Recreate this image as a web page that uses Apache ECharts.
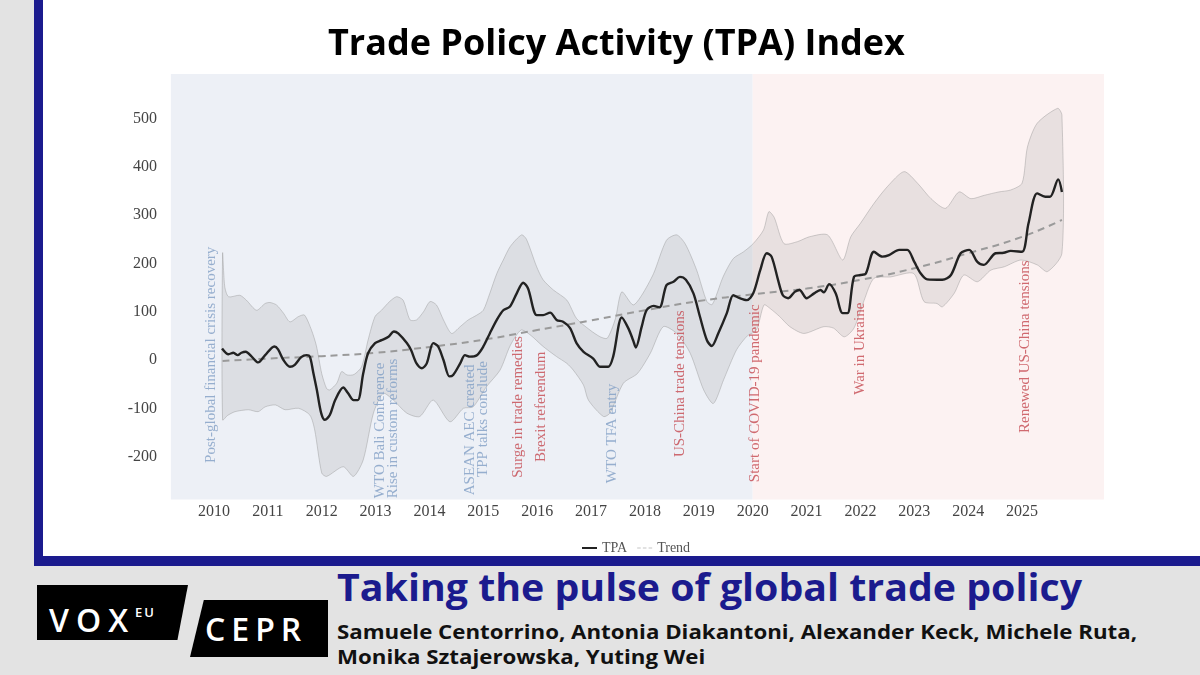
<!DOCTYPE html>
<html>
<head>
<meta charset="utf-8">
<script src="https://cdn.jsdelivr.net/npm/echarts@6/dist/echarts.min.js"></script>
<style>
html, body { margin: 0; padding: 0; }
body { width: 1200px; height: 675px; background: #e3e3e3; position: relative; overflow: hidden; font-family: "Open Sans", sans-serif; }
#frame { position: absolute; left: 34px; top: 0; width: 1166px; height: 566px; background: #1b1b8e; }
#paper { position: absolute; left: 9px; top: 0; right: 0; bottom: 10px; background: #fff; }
#main { position: absolute; left: 0; top: 0; width: 1200px; height: 556px; }
.logo { position: absolute; background: #000; color: #fff; font-weight: 600; }
#vox { left: 37px; top: 585px; width: 151px; height: 55px; line-height: 55px; font-size: 32px; letter-spacing: 7px; padding-left: 12px; box-sizing: border-box;
  clip-path: polygon(0 0, 100% 0, 93% 100%, 0 100%); }
#vox sup { font-size: 13px; letter-spacing: 2px; vertical-align: 15px; }
#cepr { left: 190px; top: 600px; width: 138px; height: 57px; line-height: 57px; font-size: 32px; letter-spacing: 6px; padding-left: 15px; box-sizing: border-box;
  clip-path: polygon(10% 0, 100% 0, 100% 100%, 0 100%); }
.fit { position: absolute; left: 337px; white-space: nowrap; transform-origin: 0 0; }
#headline { top: 563px; font-size: 38px; font-weight: 700; color: #1b1b8e; line-height: 46px; }
#authors { top: 620px; font-size: 19px; font-weight: 700; color: #111; line-height: 25px; }
#authors span { display: block; }
</style>
</head>
<body>
<div id="frame"><div id="paper"></div></div>
<div id="main"></div>
<div id="vox" class="logo">VOX<sup>EU</sup></div>
<div id="cepr" class="logo">CEPR</div>
<div id="headline" class="fit"><span>Taking the pulse of global trade policy</span></div>
<div id="authors" class="fit"><span>Samuele Centorrino, Antonia Diakantoni, Alexander Keck, Michele Ruta,</span><span>Monika Sztajerowska, Yuting Wei</span></div>
<script>
// TPA index (decimal years)
var tpaDates = [
  2010.15, 2010.27, 2010.36, 2010.44, 2010.51, 2010.59, 2010.70, 2010.82, 2010.95,
  2011.12, 2011.19, 2011.29, 2011.41, 2011.50, 2011.62, 2011.72, 2011.78, 2011.84, 2011.91, 2011.99,
  2012.06, 2012.15, 2012.25, 2012.40, 2012.49, 2012.59, 2012.67, 2012.77, 2012.86, 2012.99,
  2013.11, 2013.24, 2013.34, 2013.42, 2013.58, 2013.66, 2013.76, 2013.86, 2013.95,
  2014.07, 2014.16, 2014.26, 2014.37, 2014.44, 2014.57, 2014.66, 2014.75, 2014.88,
  2015.00, 2015.12, 2015.25, 2015.37, 2015.49, 2015.62, 2015.74, 2015.83, 2015.99,
  2016.11, 2016.24, 2016.36, 2016.48, 2016.61, 2016.73, 2016.86,
  2017.04, 2017.17, 2017.32, 2017.41, 2017.57, 2017.69, 2017.78, 2017.83, 2017.94,
  2018.03, 2018.16, 2018.27, 2018.40, 2018.53, 2018.65, 2018.76, 2018.90,
  2019.02, 2019.15, 2019.24, 2019.36, 2019.52, 2019.64, 2019.76, 2019.89,
  2020.01, 2020.14, 2020.26, 2020.35, 2020.47, 2020.56, 2020.66, 2020.78, 2020.87,
  2021.00, 2021.14, 2021.26, 2021.32, 2021.42, 2021.54, 2021.67, 2021.76, 2021.88,
  2022.00, 2022.10, 2022.25, 2022.41, 2022.53, 2022.72, 2022.87,
  2023.00, 2023.12, 2023.24, 2023.52, 2023.68, 2023.86,
  2024.02, 2024.17, 2024.29, 2024.51, 2024.66, 2024.79,
  2025.00, 2025.12, 2025.28, 2025.43, 2025.52, 2025.67, 2025.74
];
var tpaValues = [
  24, 12, 15, 10, 15, 17, 7, -5, 10,
  28, 22, 0, -14, -10, 6, 10, 7, -24, -62, -110,
  -124, -114, -83, -57, -69, -83, -83, -28, 14, 35,
  41, 48, 59, 55, 35, 20, -7, -17, -7,
  35, 28, 0, -34, -31, -7, 10, 7, 10,
  28, 55, 83, 103, 110, 138, 160, 148, 93,
  93, 98, 83, 79, 66, 35, 17,
  3, -14, -14, 7, 88, 66, 41, 26, 69,
  103, 112, 109, 155, 162, 172, 166, 138,
  90, 41, 29, 55, 97, 134, 128, 124,
  138, 186, 221, 214, 166, 134, 128, 141, 145,
  128, 138, 145, 140, 157, 138, 97, 97, 172,
  176, 179, 224, 214, 217, 228, 228,
  203, 179, 167, 166, 176, 221,
  228, 203, 197, 221, 222, 226,
  224, 283, 345, 338, 338, 374, 348
];

var trendDates = [2010.16, 2011, 2012, 2013, 2014, 2015, 2016, 2017, 2018, 2019, 2020, 2021, 2022, 2023, 2024, 2025, 2025.74];
var trendValues = [-2, 3, 8, 15, 27, 42, 62, 82, 103, 122, 136, 148, 166, 190, 221, 255, 290];

// confidence band edges
var upperDates = [
  2010.16, 2010.2, 2010.27, 2010.48, 2010.6, 2010.79, 2010.95,
  2011.04, 2011.16, 2011.29, 2011.41, 2011.57, 2011.68, 2011.81, 2011.9,
  2012.0, 2012.09, 2012.15, 2012.28, 2012.37, 2012.47, 2012.6, 2012.74, 2012.86, 2012.99,
  2013.11, 2013.26, 2013.39, 2013.51, 2013.64, 2013.76, 2013.89,
  2014.01, 2014.13, 2014.26, 2014.41, 2014.57, 2014.72, 2014.88,
  2015.0, 2015.12, 2015.25, 2015.37, 2015.5, 2015.71, 2015.8, 2015.99,
  2016.11, 2016.3, 2016.55, 2016.73, 2016.98,
  2017.17, 2017.3, 2017.45, 2017.57, 2017.78, 2017.94,
  2018.16, 2018.4, 2018.59, 2018.75, 2018.96,
  2019.15, 2019.25, 2019.45, 2019.64, 2019.83,
  2020.01, 2020.2, 2020.3, 2020.4, 2020.58, 2020.83,
  2021.05, 2021.39, 2021.67, 2021.82,
  2022.0, 2022.25, 2022.5, 2022.81,
  2023.06, 2023.31, 2023.58, 2023.83,
  2024.05, 2024.3, 2024.57, 2024.79,
  2025.0, 2025.1, 2025.28, 2025.66, 2025.74
];
var upperValues = [
  221, 152, 131, 134, 124, 103, 117,
  119, 114, 97, 79, 90, 93, 62, 30,
  -28, -59, -62, -48, -24, -31, -30, -14, 41, 90,
  103, 121, 131, 124, 83, 83, 100,
  121, 114, 83, 55, 69, 83, 93,
  103, 138, 179, 207, 235, 259, 250, 193,
  166, 145, 124, 86, 62,
  48, 45, 85, 141, 114, 134,
  179, 248, 259, 240, 186,
  121, 115, 172, 210, 224,
  241, 269, 307, 295, 241, 245,
  255, 259, 207, 255,
  283, 324, 359, 390,
  366, 334, 314, 348,
  334, 341, 348, 352,
  366, 441, 490, 521, 507
];
var lowerDates = [
  2010.16, 2010.25, 2010.39, 2010.64, 2010.82, 2010.95,
  2011.14, 2011.32, 2011.57, 2011.78, 2011.87,
  2012.0, 2012.09, 2012.4, 2012.59, 2012.77, 2012.96,
  2013.14, 2013.33, 2013.58, 2013.82,
  2014.07, 2014.38, 2014.63, 2014.81,
  2015.06, 2015.31, 2015.5, 2015.7, 2015.87,
  2016.11, 2016.36, 2016.55, 2016.67, 2016.86, 2016.95,
  2017.23, 2017.35, 2017.6, 2017.86,
  2018.1, 2018.34, 2018.59, 2018.84,
  2019.09, 2019.27, 2019.46, 2019.7, 2019.9,
  2020.07, 2020.21, 2020.32, 2020.5, 2020.69, 2020.95,
  2021.32, 2021.5, 2021.7, 2021.88,
  2022.07, 2022.25, 2022.56, 2022.99,
  2023.18, 2023.42, 2023.52, 2023.74, 2023.92,
  2024.17, 2024.42, 2024.67, 2024.98,
  2025.28, 2025.47, 2025.74
];
var lowerValues = [
  -124, -115, -107, -103, -107, -97,
  -93, -103, -100, -114, -145,
  -234, -241, -221, -241, -207, -110,
  -69, -83, -110, -117,
  -83, -128, -100, -97,
  -55, -21, 30, 62, 52,
  28, 7, -7, -21, -52, -83,
  -117, -110, -48, -28,
  14, 69, 55, 14,
  -62, -90, -41, 21, 50,
  62, 114, 107, 90, 69, 55,
  69, 66, 48, 66,
  124, 169, 172, 179,
  121, 117, 110, 138, 176,
  162, 186, 193, 207,
  197, 183, 221
];

// annotated events
var eventNames = ['Post-global financial crisis recovery', 'WTO Bali Conference', 'Rise in custom reforms',
  'ASEAN AEC created', 'TPP talks conclude', 'Surge in trade remedies', 'Brexit referendum', 'WTO TFA entry',
  'US-China trade tensions', 'Start of COVID-19 pandemic', 'War in Ukraine', 'Renewed US-China tensions'];
var eventDates = [2009.94, 2013.08, 2013.32, 2014.75, 2014.99, 2015.64, 2016.07, 2017.39, 2018.65, 2020.04, 2021.99, 2025.05];
var eventLabelBase = [-213, -286, -286, -280, -242, -244, -211, -255, -201, -253, -72, -151];
var eventKind = ['b', 'b', 'b', 'b', 'b', 'r', 'r', 'b', 'r', 'r', 'r', 'r'];

// shaded periods (start, end)
var periods = [[2009.2, 2020], [2020, 2026.52]];
var periodColors = ['#edf0f6', '#fcf2f2'];

var plotMin = -289, plotMax = 592;
var serif = '"Liberation Serif", "DejaVu Serif", serif';

function pairs(xs, ys) {
  return xs.map(function (x, i) { return [x, ys[i]]; });
}

// stretch the banner lines to the widths they have in the original
function fitWidth(id, target) {
  var el = document.getElementById(id);
  var w = el.firstElementChild.getBoundingClientRect().width;
  el.style.transform = 'scaleX(' + (target / w) + ')';
}
fitWidth('headline', 745);
fitWidth('authors', 800);

var chart = echarts.init(document.getElementById('main'));

var option = {
  animation: false,
  title: {
    text: 'Trade Policy Activity (TPA) Index',
    left: 323,
    top: 22,
    textStyle: { fontFamily: 'Open Sans', fontWeight: 'bold', fontSize: 36, color: '#000' }
  },
  legend: {
    data: [
      { name: 'TPA', icon: 'rect' },
      { name: 'Trend', icon: 'path://M0,0H5V1H0Z M8,0H13V1H8Z M16,0H21V1H16Z' }
    ],
    left: 577,
    top: 536,
    itemWidth: 15,
    itemHeight: 2,
    itemGap: 10,
    textStyle: { fontFamily: serif, fontSize: 14, color: '#555' }
  },
  grid: { left: 160.1, right: 70.2, top: 70.2, bottom: 51.1 },
  xAxis: {
    type: 'value',
    min: 2009,
    max: 2027,
    interval: 1,
    offset: -6,
    axisLine: { show: false },
    axisTick: { show: false },
    splitLine: { show: false },
    axisLabel: {
      margin: 5,
      fontFamily: serif,
      fontSize: 16,
      color: '#444',
      formatter: function (v) { return (v >= 2010 && v <= 2025) ? String(v) : ''; }
    }
  },
  yAxis: {
    type: 'value',
    min: -300,
    max: 600,
    interval: 100,
    axisLine: { show: false },
    axisTick: { show: false },
    splitLine: { show: false },
    axisLabel: {
      margin: 3,
      fontFamily: serif,
      fontSize: 16,
      color: '#444',
      formatter: function (v) { return (v >= -200 && v <= 500) ? String(v) : ''; }
    }
  },
  series: [
    {
      // shaded backgrounds
      type: 'custom',
      silent: true,
      z: 0,
      data: periods.map(function (p, i) { return [p[0], p[1], i]; }),
      encode: { x: [0, 1], y: 2 },
      renderItem: function (params, api) {
        var a = api.coord([api.value(0), plotMax]);
        var b = api.coord([api.value(1), plotMin]);
        return {
          type: 'rect',
          shape: { x: a[0], y: a[1], width: b[0] - a[0], height: b[1] - a[1] },
          style: { fill: periodColors[api.value(2)] }
        };
      }
    },
    {
      // confidence band
      type: 'custom',
      silent: true,
      z: 1,
      data: [[upperDates[0], upperValues[0]]],
      renderItem: function (params, api) {
        var pts = [];
        for (var i = 0; i < upperDates.length; i++) pts.push(api.coord([upperDates[i], upperValues[i]]));
        for (var j = lowerDates.length - 1; j >= 0; j--) pts.push(api.coord([lowerDates[j], lowerValues[j]]));
        return {
          type: 'polygon',
          shape: { points: pts, smooth: 0.25 },
          style: { fill: 'rgba(128,128,128,0.16)', stroke: 'rgba(150,150,150,0.55)', lineWidth: 0.8 }
        };
      }
    },
    {
      name: 'Trend',
      type: 'line',
      z: 3,
      data: pairs(trendDates, trendValues),
      smooth: true,
      showSymbol: false,
      symbol: 'none',
      lineStyle: { color: '#9a9a9a', width: 2, type: [7, 5] },
      itemStyle: { color: '#8a8a8a' }
    },
    {
      name: 'TPA',
      type: 'line',
      z: 4,
      data: pairs(tpaDates, tpaValues),
      smooth: 0.3,
      showSymbol: false,
      symbol: 'none',
      lineStyle: { color: '#222', width: 2.4 },
      itemStyle: { color: '#222' }
    },
    {
      type: 'scatter',
      silent: true,
      z: 5,
      symbolSize: 0,
      data: eventNames.map(function (n, i) {
        return {
          name: n,
          value: [eventDates[i], eventLabelBase[i]],
          label: { color: eventKind[i] === 'b' ? '#7f9ec4' : '#c4474f' }
        };
      }),
      label: {
        show: true,
        position: 'inside',
        formatter: '{b}',
        rotate: 90,
        align: 'left',
        verticalAlign: 'middle',
        fontFamily: serif,
        fontSize: 15
      }
    }
  ]
};

chart.setOption(option);
</script>
</body>
</html>
